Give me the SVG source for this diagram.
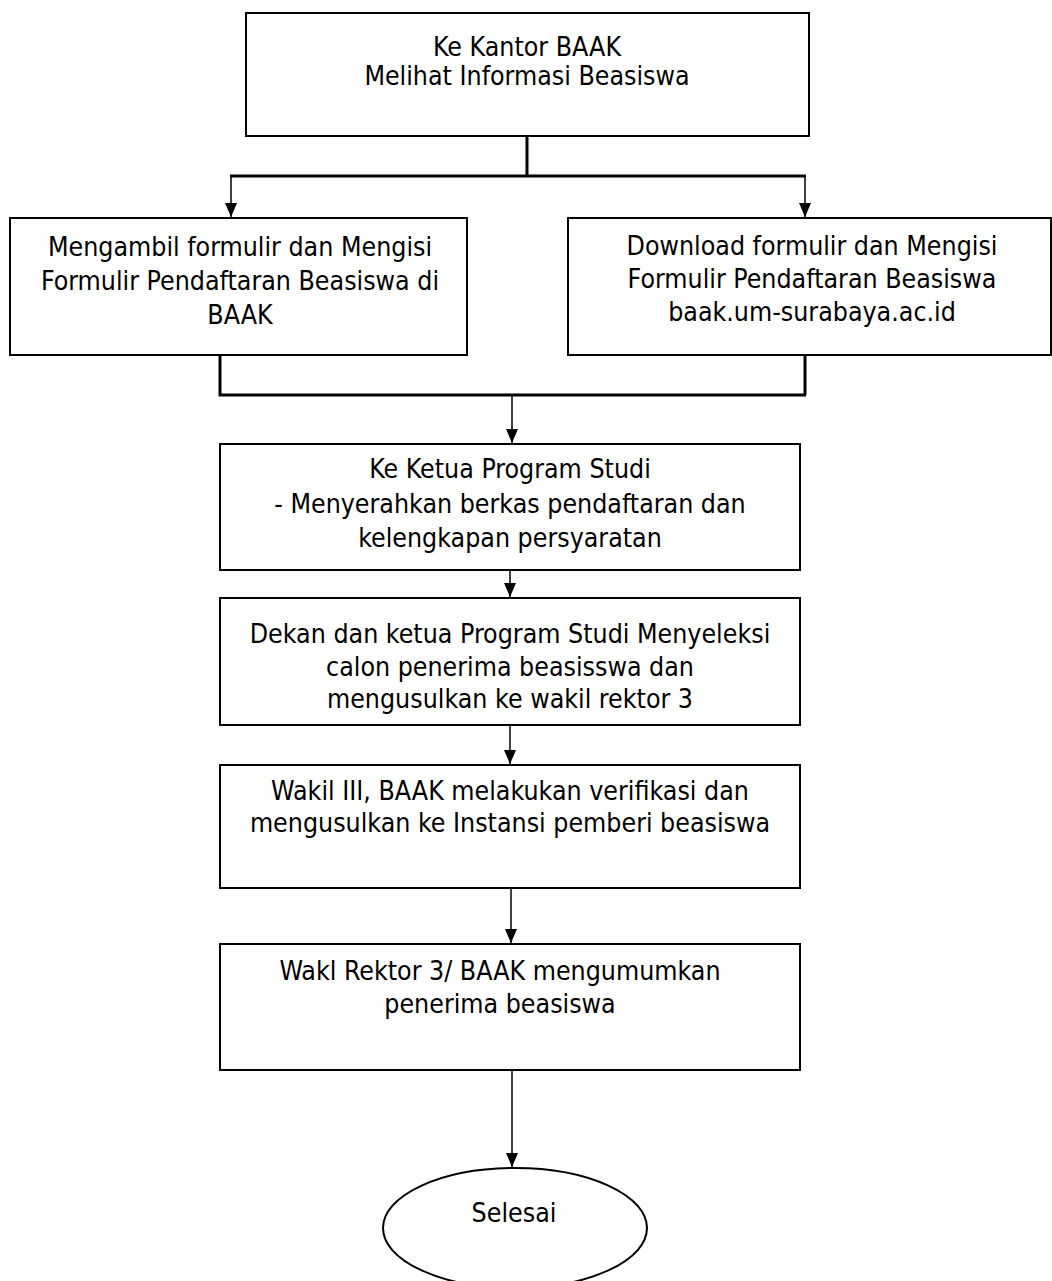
<svg xmlns="http://www.w3.org/2000/svg" width="1052" height="1281" viewBox="0 0 1052 1281">
<style>
.box{fill:#fff;stroke:#000;stroke-width:2}
.t{font-family:"DejaVu Sans Condensed","DejaVu Sans",sans-serif;font-size:26.5px;fill:#000;text-anchor:middle}
.thick{fill:none;stroke:#000;stroke-width:3}
.thin{fill:none;stroke:#000;stroke-width:1.5}
</style>
<defs>
<marker id="ahb" viewBox="0 0 12 14" refX="6" refY="14" markerWidth="12" markerHeight="14" markerUnits="userSpaceOnUse" orient="0">
<path d="M0,0 L12,0 L6,14 z" fill="#000"/>
</marker>
</defs>
<rect width="1052" height="1281" fill="#fff"/>
<g id="connectors">
<polyline class="thick" points="527,136 527,176"/>
<polyline class="thick" points="230,176 806,176"/>
<line class="thin" x1="231" y1="176" x2="231" y2="217" marker-end="url(#ahb)"/>
<line class="thin" x1="805" y1="176" x2="805" y2="217" marker-end="url(#ahb)"/>
<polyline class="thick" points="220,355 220,395 806,395"/>
<polyline class="thick" points="805,355 805,395"/>
<line class="thin" x1="512" y1="395" x2="512" y2="443" marker-end="url(#ahb)"/>
<line class="thin" x1="510" y1="570" x2="510" y2="597" marker-end="url(#ahb)"/>
<line class="thin" x1="510" y1="725" x2="510" y2="764" marker-end="url(#ahb)"/>
<line class="thin" x1="511" y1="888" x2="511" y2="943" marker-end="url(#ahb)"/>
<line class="thin" x1="512" y1="1070" x2="512" y2="1167" marker-end="url(#ahb)"/>
</g>
<g id="n1">
<rect class="box" x="246" y="13" width="563" height="123"/>
<text class="t" x="527" y="56">Ke Kantor BAAK</text>
<text class="t" x="527" y="85">Melihat Informasi Beasiswa</text>
</g>
<g id="n2">
<rect class="box" x="10" y="218" width="457" height="137"/>
<text class="t" x="240" y="256">Mengambil formulir dan Mengisi</text>
<text class="t" x="240" y="290">Formulir Pendaftaran Beasiswa di</text>
<text class="t" x="240" y="324">BAAK</text>
</g>
<g id="n3">
<rect class="box" x="568" y="218" width="483" height="137"/>
<text class="t" x="812" y="255">Download formulir dan Mengisi</text>
<text class="t" x="812" y="288">Formulir Pendaftaran Beasiswa</text>
<text class="t" x="812" y="321">baak.um-surabaya.ac.id</text>
</g>
<g id="n4">
<rect class="box" x="220" y="444" width="580" height="126"/>
<text class="t" x="510" y="478">Ke Ketua Program Studi</text>
<text class="t" x="510" y="513">- Menyerahkan berkas pendaftaran dan</text>
<text class="t" x="510" y="547">kelengkapan persyaratan</text>
</g>
<g id="n5">
<rect class="box" x="220" y="598" width="580" height="127"/>
<text class="t" x="510" y="643">Dekan dan ketua Program Studi Menyeleksi</text>
<text class="t" x="510" y="676">calon penerima beasisswa dan</text>
<text class="t" x="510" y="708">mengusulkan ke wakil rektor 3</text>
</g>
<g id="n6">
<rect class="box" x="220" y="765" width="580" height="123"/>
<text class="t" x="510" y="800">Wakil III, BAAK melakukan verifikasi dan</text>
<text class="t" x="510" y="832">mengusulkan ke Instansi pemberi beasiswa</text>
</g>
<g id="n7">
<rect class="box" x="220" y="944" width="580" height="126"/>
<text class="t" x="500" y="980">Wakl Rektor 3/ BAAK mengumumkan</text>
<text class="t" x="500" y="1013">penerima beasiswa</text>
</g>
<g id="n8">
<ellipse class="box" cx="515" cy="1228" rx="132" ry="60"/>
<text class="t" x="514" y="1222">Selesai</text>
</g>
</svg>
